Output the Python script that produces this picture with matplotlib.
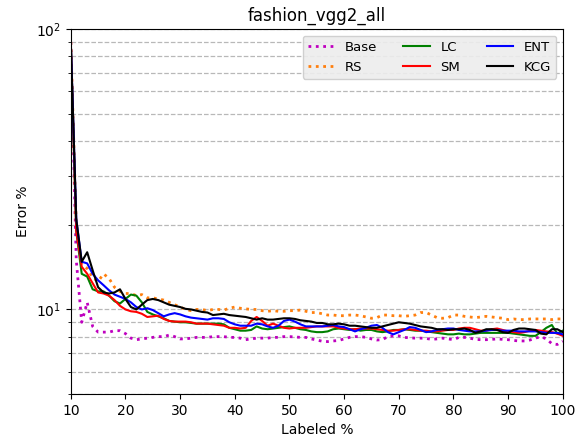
import matplotlib
matplotlib.use('Agg')
import matplotlib.pyplot as plt

labeled = list(range(10, 101))

base = [90, 15, 9.0, 10.6, 8.7, 8.3, 8.3, 8.3, 8.4, 8.4, 8.2, 7.9, 7.8, 7.85, 7.9, 7.95, 8.0,
        8.0, 8.1, 8.0, 7.85, 7.85, 7.9, 7.95, 7.95, 7.95, 8.0, 8.0, 8.0, 7.95, 7.95, 7.9, 7.8, 7.85, 7.9,
        7.9, 7.9, 7.95, 7.95, 8.0, 8.0, 7.98, 7.95, 7.95, 7.85, 7.78, 7.7, 7.68, 7.72, 7.75, 7.85, 7.95, 8.0,
        8.0, 7.95, 7.85, 7.78, 7.8, 8.0, 8.05, 8.05, 7.95, 7.92, 7.9, 7.9, 7.88, 7.82, 7.85, 7.9, 7.85, 7.8,
        7.95, 7.95, 7.9, 7.82, 7.8, 7.8, 7.82, 7.85, 7.82, 7.8, 7.75, 7.72, 7.72, 7.78, 7.9, 8.0, 7.85, 7.55, 7.5, 7.7]

rs = [90, 20, 14.4, 14.0, 13.0, 12.6, 13.4, 12.9, 12.0, 11.6, 11.4, 11.4, 11.2, 11.3, 11.0, 11.0, 10.9,
      10.8, 10.6, 10.4, 10.2, 10.0, 9.9, 10.0, 10.0, 9.9, 10.0, 10.0, 9.95, 10.1, 10.2, 10.1, 10.05, 10.0, 10.0,
      9.9, 9.85, 9.9, 9.85, 9.85, 9.9, 9.9, 9.95, 9.85, 9.75, 9.75, 9.65, 9.55, 9.55, 9.5, 9.5, 9.55, 9.55,
      9.5, 9.4, 9.3, 9.35, 9.55, 9.55, 9.5, 9.5, 9.45, 9.5, 9.55, 9.75, 9.75, 9.55, 9.35, 9.3, 9.35, 9.55,
      9.55, 9.45, 9.4, 9.35, 9.4, 9.45, 9.4, 9.35, 9.3, 9.2, 9.25, 9.2, 9.2, 9.25, 9.25, 9.25, 9.25, 9.2, 9.25, 9.25]

lc = [90, 19, 13.4, 13.1, 11.8, 11.6, 11.6, 11.2, 10.7, 10.5, 10.9, 11.3, 11.2, 10.6, 9.8, 9.6, 9.45,
      9.3, 9.1, 9.05, 9.0, 9.0, 8.95, 8.9, 8.9, 8.9, 8.9, 8.9, 8.85, 8.6, 8.5, 8.4, 8.4, 8.45, 8.7,
      8.55, 8.5, 8.55, 8.6, 8.65, 8.7, 8.6, 8.5, 8.45, 8.35, 8.3, 8.3, 8.35, 8.5, 8.55, 8.5, 8.45, 8.5,
      8.4, 8.45, 8.45, 8.35, 8.3, 8.35, 8.45, 8.45, 8.5, 8.45, 8.4, 8.4, 8.35, 8.3, 8.25, 8.2, 8.15, 8.15,
      8.2, 8.15, 8.15, 8.2, 8.25, 8.25, 8.25, 8.25, 8.25, 8.25, 8.2, 8.15, 8.1, 8.05, 8.05, 8.3, 8.6, 8.8, 8.2, 8.4]

sm = [90, 19, 14.2, 13.4, 12.4, 11.5, 11.4, 11.2, 10.8, 10.3, 10.0, 9.85, 9.8, 9.65, 9.4, 9.45, 9.5,
      9.25, 9.1, 9.05, 9.05, 9.05, 9.0, 8.9, 8.9, 8.9, 8.85, 8.8, 8.75, 8.6, 8.6, 8.55, 8.6, 9.1, 9.4,
      9.1, 8.75, 8.9, 8.75, 8.6, 8.55, 8.6, 8.6, 8.6, 8.65, 8.7, 8.7, 8.7, 8.7, 8.6, 8.55, 8.5, 8.5,
      8.55, 8.55, 8.55, 8.5, 8.45, 8.4, 8.4, 8.45, 8.5, 8.5, 8.45, 8.4, 8.4, 8.35, 8.35, 8.4, 8.45, 8.45,
      8.55, 8.6, 8.6, 8.5, 8.4, 8.4, 8.5, 8.55, 8.45, 8.35, 8.3, 8.25, 8.3, 8.4, 8.45, 8.4, 8.35, 8.3, 8.2, 8.05]

ent = [90, 21, 14.8, 14.6, 13.4, 12.7, 12.2, 11.7, 11.3, 11.1, 10.9, 10.6, 10.2, 10.0, 10.1, 9.95, 9.7,
       9.45, 9.6, 9.7, 9.6, 9.45, 9.35, 9.3, 9.25, 9.2, 9.3, 9.3, 9.25, 9.0, 8.85, 8.75, 8.75, 8.75, 8.9,
       8.85, 8.7, 8.6, 8.75, 9.1, 9.2, 9.05, 8.85, 8.7, 8.7, 8.7, 8.7, 8.75, 8.8, 8.7, 8.65, 8.5, 8.35,
       8.5, 8.6, 8.75, 8.8, 8.6, 8.3, 8.15, 8.3, 8.45, 8.65, 8.6, 8.45, 8.3, 8.35, 8.45, 8.5, 8.55, 8.55,
       8.45, 8.4, 8.35, 8.35, 8.35, 8.4, 8.45, 8.45, 8.4, 8.4, 8.4, 8.35, 8.35, 8.35, 8.35, 8.3, 8.25, 8.25, 8.25, 8.15]

kcg = [90, 21, 14.8, 16.0, 13.8, 12.0, 11.5, 11.4, 11.5, 11.8, 10.9, 10.2, 10.0, 10.4, 10.8, 10.9, 10.8,
       10.6, 10.4, 10.3, 10.2, 10.05, 10.0, 9.9, 9.8, 9.75, 9.55, 9.6, 9.65, 9.55, 9.5, 9.45, 9.4, 9.3, 9.2,
       9.3, 9.2, 9.2, 9.25, 9.3, 9.3, 9.25, 9.15, 9.1, 9.05, 8.95, 8.95, 8.85, 8.85, 8.9, 8.85, 8.75, 8.75,
       8.7, 8.65, 8.6, 8.6, 8.7, 8.8, 8.9, 9.0, 8.95, 8.9, 8.8, 8.7, 8.65, 8.6, 8.5, 8.5, 8.45, 8.5,
       8.5, 8.55, 8.45, 8.25, 8.35, 8.5, 8.5, 8.45, 8.3, 8.25, 8.45, 8.55, 8.55, 8.5, 8.45, 8.2, 8.15, 8.5, 8.5, 8.3]

fig = plt.figure(figsize=(5.85, 4.42), dpi=100)
ax = fig.add_axes([0.121, 0.109, 0.841, 0.825])

ax.plot(labeled, base, ':', color='m', lw=2, label='Base')
ax.plot(labeled, rs, ':', color='C1', lw=2, label='RS')
ax.plot(labeled, lc, '-', color='g', lw=1.5, label='LC')
ax.plot(labeled, sm, '-', color='r', lw=1.5, label='SM')
ax.plot(labeled, ent, '-', color='b', lw=1.5, label='ENT')
ax.plot(labeled, kcg, '-', color='k', lw=1.5, label='KCG')

ax.set_yscale('log')
ax.set_xlim(10, 100)
ax.set_ylim(5, 100)
ax.set_xticks(range(10, 101, 10))
ax.yaxis.grid(True, which='both', linestyle='--', color='0.72', lw=0.9)
ax.set_xlabel('Labeled %')
ax.set_ylabel('Error %')
ax.set_title('fashion_vgg2_all')
ax.legend(loc='upper right', ncol=3, fontsize=9.5, facecolor='0.93', framealpha=0.9)

fig.savefig('out.png', dpi=100)
